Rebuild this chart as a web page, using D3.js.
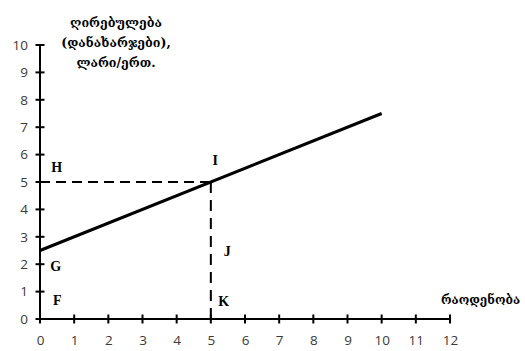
<!DOCTYPE html>
<html><head><meta charset="utf-8">
<script src="https://cdn.jsdelivr.net/npm/d3@7"></script>
<style>body{margin:0;background:#fff}svg{display:block}</style>
</head><body>
<script>
const xTicks = [0,1,2,3,4,5,6,7,8,9,10,11,12];
const yTicks = [0,1,2,3,4,5,6,7,8,9,10];
const costX = [0,10];
const costY = [2.5,7.5];
const pointI = [5,5];
const yTitle = ["ღირებულება","(დანახარჯები),","ლარი/ერთ."];
const xTitle = "რაოდენობა";
const letters = ["H","I","J","K","G","F"];
const letterPos = [[0.33,5.5],[5.05,5.73],[5.38,2.41],[5.22,0.58],[0.3,1.86],[0.38,0.62]];

const W=525,H=351;
const svg=d3.select("body").append("svg").attr("width",W).attr("height",H);
const x=d3.scaleLinear().domain([0,12]).range([40,450]);
const y=d3.scaleLinear().domain([0,10]).range([319,45]);

const tc="#3a3a3a";
// y axis
const ya=svg.append("g").attr("transform","translate(40,0)")
  .call(d3.axisLeft(y).tickValues(yTicks).tickSize(0).tickPadding(12).tickFormat(d3.format("d")));
ya.select(".domain").attr("stroke","#000").attr("stroke-width",2).attr("d",`M0,${y(10)}V${y(0)}`);
ya.selectAll(".tick text").attr("font-family","Open Sans, sans-serif").attr("font-size",13.5).attr("fill",tc);

const xa=svg.append("g").attr("transform","translate(0,319)")
  .call(d3.axisBottom(x).tickValues(xTicks).tickSize(0).tickPadding(16).tickFormat(d3.format("d")));
xa.select(".domain").attr("stroke","#000").attr("stroke-width",2).attr("d",`M${x(0)},0H${x(12)}`);
xa.selectAll(".tick text").attr("font-family","Open Sans, sans-serif").attr("font-size",13.5).attr("fill",tc);

// explicit tick marks
svg.append("g").selectAll("path").data(yTicks).enter().append("path")
  .attr("d",d=>`M${x(0)-4.5},${y(d)}H${x(0)+4.5}`).attr("stroke","#000").attr("stroke-width",2).attr("fill","none");
svg.append("g").selectAll("path").data(xTicks).enter().append("path")
  .attr("d",d=>`M${x(d)},${y(0)-4.5}V${y(0)+4.5}`).attr("stroke","#000").attr("stroke-width",2).attr("fill","none");

// dashed guides
svg.append("line").attr("x1",x(0)).attr("x2",x(pointI[0])).attr("y1",y(pointI[1])).attr("y2",y(pointI[1]))
  .attr("stroke","#000").attr("stroke-width",2).attr("stroke-dasharray","10,6");
svg.append("line").attr("x1",x(pointI[0])).attr("x2",x(pointI[0])).attr("y1",y(pointI[1])).attr("y2",y(0))
  .attr("stroke","#000").attr("stroke-width",2).attr("stroke-dasharray","11,7");

// cost line
svg.append("path").datum(costX.map((d,i)=>[d,costY[i]]))
  .attr("d",d3.line().x(d=>x(d[0])).y(d=>y(d[1])))
  .attr("stroke","#000").attr("stroke-width",3).attr("fill","none");

// letters
svg.selectAll("text.lt").data(letters).enter().append("text").attr("class","lt")
  .attr("x",(d,i)=>x(letterPos[i][0])).attr("y",(d,i)=>y(letterPos[i][1]))
  .attr("font-family","Liberation Serif, serif").attr("font-weight","bold").attr("font-size",14)
  .attr("dominant-baseline","middle").text(d=>d);

// titles
svg.append("text").attr("x",116).attr("y",0).attr("text-anchor","middle")
  .attr("font-family","DejaVu Serif, DejaVu Sans, serif").attr("font-weight","bold").attr("font-size",12.5)
  .selectAll("tspan").data(yTitle).enter().append("tspan").attr("x",116).attr("y",(d,i)=>27+i*20).text(d=>d);
svg.append("text").attr("x",441).attr("y",304)
  .attr("font-family","DejaVu Serif, DejaVu Sans, serif").attr("font-weight","bold").attr("font-size",12).text(xTitle);
</script>
</body></html>
